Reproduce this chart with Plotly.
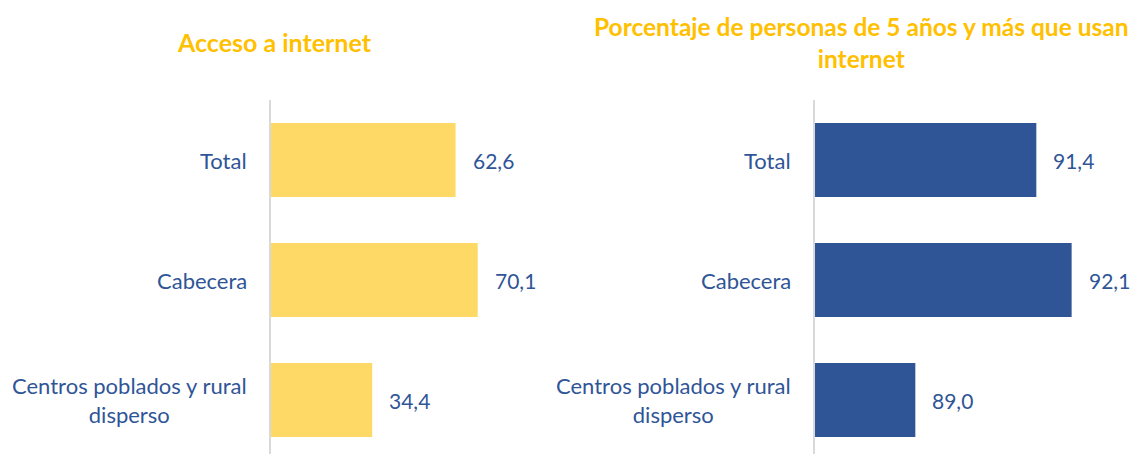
import plotly.graph_objects as go

categories = ["Total", "Cabecera", "Centros poblados y rural disperso"]
category_labels = ["Total", "Cabecera", "Centros poblados y rural<br>disperso"]
acceso_internet = [62.6, 70.1, 34.4]
personas_usan = [91.4, 92.1, 89.0]
titles = ["Acceso a internet", "Porcentaje de personas de 5 años y más que usan<br>internet"]

# page offset (body margin of the html page)
OX, OY = 8, 8
W, H = 1138 - OX, 454 - OY
FONT = "Lato"
BLUE_TXT = "#2F5597"
YELLOW = "#FFD966"
BLUE = "#2F5597"
TITLE_C = "#FFC000"

PLOT_TOP = 100 - OY
PLOT_H = H - PLOT_TOP


def px_x(px):
    return (px - OX) / W


def px_y(py):
    return (H - (py - OY)) / PLOT_H


fig = go.Figure()

panels = [
    dict(vals=acceso_internet, color=YELLOW, xa="x", ya="y", rng=[0, 80], dom=[px_x(270.5), px_x(507)]),
    dict(vals=personas_usan, color=BLUE, xa="x2", ya="y2", rng=[87, 93], dom=[px_x(814.5), px_x(1117)]),
]

for p in panels:
    fig.add_trace(go.Bar(
        x=p["vals"], y=categories, orientation="h",
        marker=dict(color=p["color"], line=dict(width=0)),
        xaxis=p["xa"], yaxis=p["ya"], showlegend=False, hoverinfo="skip",
    ))
    for c, lab, v in zip(categories, category_labels, p["vals"]):
        fig.add_annotation(
            x=v, y=c, xref=p["xa"], yref=p["ya"], xanchor="left", yanchor="middle",
            xshift=15, text=f"{v:.1f}".replace(".", ","), showarrow=False,
            font=dict(family=FONT, size=21, color=BLUE_TXT),
        )
        fig.add_annotation(
            x=0, y=c, xref=f"{p['xa']} domain", yref=p["ya"], xanchor="right", yanchor="middle",
            xshift=-22, text=lab, align="center", showarrow=False,
            font=dict(family=FONT, size=22, color=BLUE_TXT),
        )

axis_common = dict(showgrid=False, zeroline=False, showticklabels=False, ticks="")
fig.update_layout(
    width=W, height=H,
    margin=dict(l=0, r=0, t=PLOT_TOP, b=0),
    paper_bgcolor="white", plot_bgcolor="white",
    bargap=0.383,
    xaxis=dict(domain=panels[0]["dom"], range=panels[0]["rng"], **axis_common),
    xaxis2=dict(domain=panels[1]["dom"], range=panels[1]["rng"], **axis_common),
    yaxis=dict(anchor="x", categoryorder="array", categoryarray=categories,
               range=[2.45, -0.5], showline=True, linecolor="#D9D9D9", linewidth=2, **axis_common),
    yaxis2=dict(anchor="x2", categoryorder="array", categoryarray=categories,
                range=[2.45, -0.5], showline=True, linecolor="#D9D9D9", linewidth=2, **axis_common),
)

fig.add_annotation(x=px_x(274), y=px_y(42), xref="paper", yref="paper",
                   xanchor="center", yanchor="middle",
                   text=f"<b>{titles[0]}</b>", showarrow=False,
                   font=dict(family=FONT, size=25, color=TITLE_C))
fig.add_annotation(x=px_x(861), y=px_y(42.5), xref="paper", yref="paper",
                   xanchor="center", yanchor="middle",
                   text=f"<b>{titles[1]}</b>", showarrow=False, align="center",
                   font=dict(family=FONT, size=24.5, color=TITLE_C))

fig.write_html("out.html")
